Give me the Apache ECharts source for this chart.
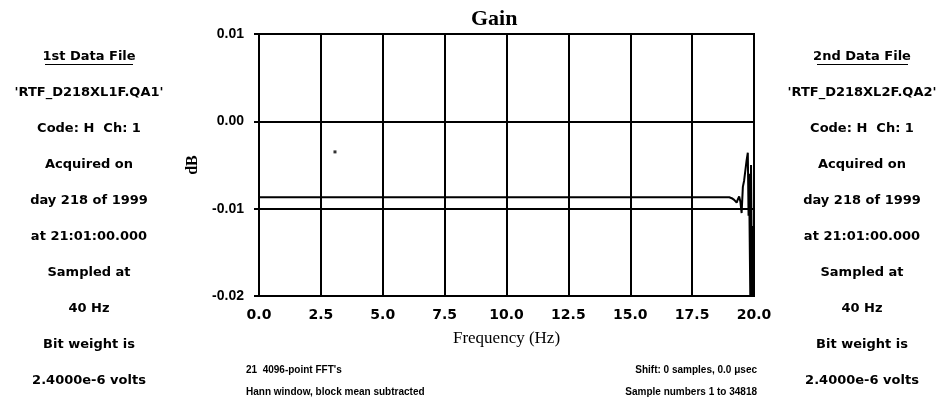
<!DOCTYPE html>
<html>
<head>
<meta charset="utf-8">
<script src="https://cdn.jsdelivr.net/npm/echarts@6/dist/echarts.min.js"></script>
<style>html,body{margin:0;padding:0;background:#fff}#c{width:942px;height:400px}</style>
</head>
<body>
<div id="c"></div>
<script>
// ---- data ----
var freqHz = [0, 2.5, 5, 7.5, 10, 12.5, 15, 17.5, 18.7, 19.0, 19.1, 19.2, 19.25, 19.3, 19.35, 19.4, 19.45, 19.5, 19.55, 19.6, 19.65, 19.7, 19.75, 19.78, 19.8, 19.85, 19.88, 19.92, 19.95, 19.98, 20.0];
var gainDb = [-0.0087, -0.0087, -0.0087, -0.0087, -0.0087, -0.0087, -0.0087, -0.0087, -0.0087, -0.0087, -0.0088, -0.0090, -0.0088, -0.0093, -0.0089, -0.0086, -0.0092, -0.0105, -0.0075, -0.0068, -0.0067, -0.0045, -0.0036, -0.0108, -0.0060, -0.0200, -0.0050, -0.0200, -0.0120, -0.0200, -0.0200];
var strayPoint = [[3.07, -0.0035]];
var xTicks = {min: 0, max: 20, step: 2.5};
var yTicks = {min: -0.02, max: 0.01, step: 0.01};
var titleText = 'Gain';
var xName = 'Frequency (Hz)';
var yName = 'dB';
var leftPanel = ['1st Data File', "'RTF_D218XL1F.QA1'", 'Code: H  Ch: 1', 'Acquired on', 'day 218 of 1999', 'at 21:01:00.000', 'Sampled at', '40 Hz', 'Bit weight is', '2.4000e-6 volts'];
var rightPanel = ['2nd Data File', "'RTF_D218XL2F.QA2'", 'Code: H  Ch: 1', 'Acquired on', 'day 218 of 1999', 'at 21:01:00.000', 'Sampled at', '40 Hz', 'Bit weight is', '2.4000e-6 volts'];
var footLeft = ["21  4096-point FFT's", 'Hann window, block mean subtracted'];
var footRight = ['Shift: 0 samples, 0.0 \u03bcsec', 'Sample numbers 1 to 34818'];

var lineData = freqHz.map(function (f, i) { return [f, gainDb[i]]; });

var sans = 'Liberation Sans';
var wide = 'DejaVu Sans';
var serif = 'Liberation Serif';
var gr = [];
leftPanel.forEach(function (t, i) {
  gr.push({type: 'text', x: 89, y: 57 + i * 36, style: {text: t, align: 'center', verticalAlign: 'middle', font: 'bold 13px "' + wide + '"', fill: '#000'}});
});
rightPanel.forEach(function (t, i) {
  gr.push({type: 'text', x: 862, y: 57 + i * 36, style: {text: t, align: 'center', verticalAlign: 'middle', font: 'bold 13px "' + wide + '"', fill: '#000'}});
});
gr.push({type: 'line', shape: {x1: 45, y1: 64.5, x2: 133, y2: 64.5}, style: {stroke: '#000', lineWidth: 1}});
gr.push({type: 'line', shape: {x1: 817, y1: 64.5, x2: 908, y2: 64.5}, style: {stroke: '#000', lineWidth: 1}});
footLeft.forEach(function (t, i) {
  gr.push({type: 'text', x: 246, y: 370 + i * 22, style: {text: t, align: 'left', verticalAlign: 'middle', font: 'bold 10px "' + sans + '"', fill: '#000'}});
});
footRight.forEach(function (t, i) {
  gr.push({type: 'text', x: 757, y: 370 + i * 22, style: {text: t, align: 'right', verticalAlign: 'middle', font: 'bold 10px "' + sans + '"', fill: '#000'}});
});

var chart = echarts.init(document.getElementById('c'), null, {renderer: 'canvas'});
chart.setOption({
  animation: false,
  backgroundColor: '#fff',
  title: {text: titleText, left: 466, top: 3, textStyle: {fontFamily: serif, fontWeight: 'bold', fontSize: 22, color: '#000'}},
  grid: {left: 259, right: 188, top: 34, bottom: 104, show: true, borderColor: '#000', borderWidth: 2, backgroundColor: 'transparent'},
  xAxis: {
    type: 'value', min: xTicks.min, max: xTicks.max, interval: xTicks.step,
    name: xName, nameLocation: 'middle', nameGap: 34,
    nameTextStyle: {fontFamily: serif, fontSize: 17, color: '#000'},
    axisLine: {show: true, lineStyle: {color: '#000', width: 2}},
    axisTick: {show: true, length: 5, lineStyle: {color: '#000', width: 2}},
    axisLabel: {fontFamily: wide, fontWeight: 'bold', fontSize: 14, color: '#000', margin: 12, formatter: function (v) { return v.toFixed(1); }},
    splitLine: {show: true, lineStyle: {color: '#000', width: 2}}
  },
  yAxis: {
    type: 'value', min: yTicks.min, max: yTicks.max, interval: yTicks.step,
    name: yName, nameLocation: 'middle', nameGap: 58, nameRotate: 90,
    nameTextStyle: {fontFamily: serif, fontWeight: 'bold', fontSize: 16, color: '#000'},
    axisLine: {show: true, lineStyle: {color: '#000', width: 2}},
    axisTick: {show: true, length: 5, lineStyle: {color: '#000', width: 2}},
    axisLabel: {fontFamily: sans, fontWeight: 'bold', fontSize: 14, color: '#000', margin: 15, formatter: function (v) { return v.toFixed(2); }},
    splitLine: {show: true, lineStyle: {color: '#000', width: 2}}
  },
  series: [
    {type: 'line', data: lineData, symbol: 'none', clip: false, lineStyle: {color: '#000', width: 2}},
    {type: 'scatter', data: strayPoint, symbol: 'rect', symbolSize: 3, itemStyle: {color: '#000'}}
  ],
  graphic: gr
});
</script>
</body>
</html>
